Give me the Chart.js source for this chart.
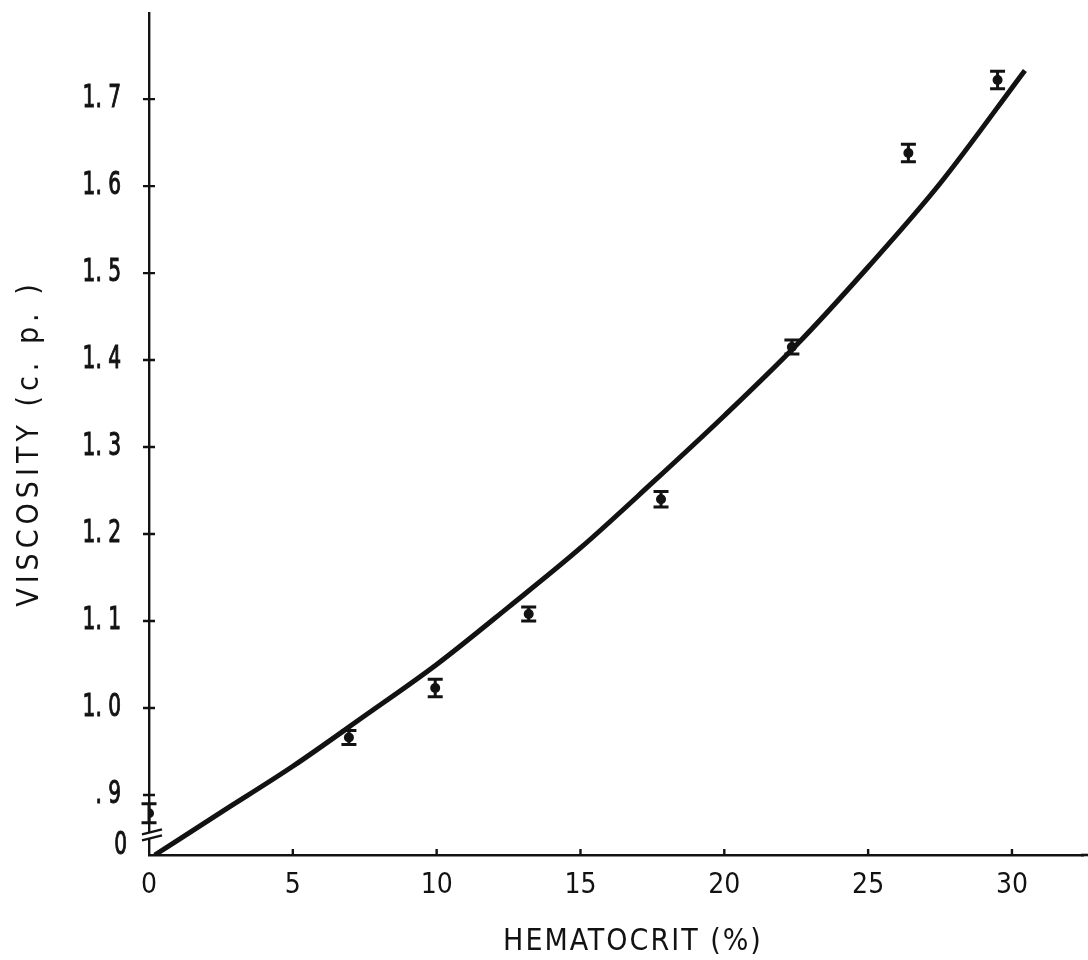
<!DOCTYPE html>
<html>
<head>
<meta charset="utf-8">
<script src="https://cdn.jsdelivr.net/npm/chart.js@4/dist/chart.umd.min.js"></script>
<style>
  html, body { margin: 0; padding: 0; background: #fff; }
  canvas { display: block; }
</style>
</head>
<body>
<canvas id="chart" width="1088" height="960"></canvas>
<script>
// Measured blood viscosity against hematocrit, with error bars
const hematocrit   = [0, 6.95, 9.95, 13.2, 17.8, 22.35, 26.4, 29.5];
const viscosity    = [0.879, 0.966, 1.023, 1.108, 1.240, 1.415, 1.638, 1.722];
const viscosityErr = [0.011, 0.008, 0.010, 0.008, 0.009, 0.008, 0.010, 0.010];

// Fitted curve
const fitHematocrit = [0.2, 2.5, 5, 7.5, 10, 12.5, 15, 17.5, 20, 22.5, 25, 27.5, 30.45];
const fitViscosity  = [0.831, 0.880, 0.933, 0.991, 1.050, 1.116, 1.184, 1.259, 1.336, 1.417, 1.507, 1.603, 1.733];

// Axes (the viscosity axis is broken between 0 and .9)
const xTicks      = [0, 5, 10, 15, 20, 25, 30];
const xTickLabels = ['0', '5', '10', '15', '20', '25', '30'];
const Y_FLOOR = 0.831;   // bottom of the broken axis, labelled "0"
const Y_TOP   = 1.799;
const X_MAX   = 32.47;
const Y_BREAK = 0.857;   // where the break marks cross the axis
const yTicks      = [Y_FLOOR, 0.9, 1.0, 1.1, 1.2, 1.3, 1.4, 1.5, 1.6, 1.7];
const yTickLabels = ['0', '. 9', '1. 0', '1. 1', '1. 2', '1. 3', '1. 4', '1. 5', '1. 6', '1. 7'];

const xTitle = 'HEMATOCRIT (%)';
const yTitle = 'VISCOSITY (c. p. )';

const FONT = '"DejaVu Sans Condensed", "Liberation Sans", sans-serif';
const INK = '#121212';

const decor = {
  id: 'decor',
  beforeDraw(chart) {
    const { ctx, width, height } = chart;
    ctx.save();
    ctx.fillStyle = '#fff';
    ctx.fillRect(0, 0, width, height);
    ctx.restore();
  },
  afterDatasetsDraw(chart) {
    const { ctx, scales: { x, y } } = chart;
    ctx.save();
    ctx.strokeStyle = INK;
    ctx.lineCap = 'butt';
    ctx.lineWidth = 3;
    hematocrit.forEach((h, i) => {
      const px = x.getPixelForValue(h);
      const top = y.getPixelForValue(viscosity[i] + viscosityErr[i]);
      const bot = y.getPixelForValue(viscosity[i] - viscosityErr[i]);
      ctx.beginPath();
      ctx.moveTo(px, top); ctx.lineTo(px, bot);
      ctx.moveTo(px - 7.5, top); ctx.lineTo(px + 7.5, top);
      ctx.moveTo(px - 7.5, bot); ctx.lineTo(px + 7.5, bot);
      ctx.stroke();
    });
    ctx.restore();
  },
  afterDraw(chart) {
    const { ctx, chartArea: area, scales: { x, y } } = chart;
    ctx.save();
    ctx.strokeStyle = INK;
    ctx.lineWidth = 2.4;
    // tick marks: across the viscosity axis, inward on the hematocrit axis
    ctx.beginPath();
    yTicks.forEach(v => {
      if (v === Y_FLOOR) return;
      const py = y.getPixelForValue(v);
      ctx.moveTo(area.left - 6, py); ctx.lineTo(area.left + 6, py);
    });
    xTicks.forEach(v => {
      if (v === 0) return;
      const px = x.getPixelForValue(v);
      ctx.moveTo(px, area.bottom); ctx.lineTo(px, area.bottom - 6);
    });
    ctx.stroke();

    // hematocrit axis runs on to the edge of the figure
    ctx.lineWidth = 2.6;
    ctx.beginPath();
    ctx.moveTo(area.right - 2, area.bottom); ctx.lineTo(chart.width, area.bottom);
    ctx.stroke();

    // axis break
    const yb = y.getPixelForValue(Y_BREAK);
    const L = area.left;
    ctx.fillStyle = '#fff';
    ctx.beginPath();
    ctx.moveTo(L - 3, yb + 1); ctx.lineTo(L + 3, yb - 1);
    ctx.lineTo(L + 3, yb + 5); ctx.lineTo(L - 3, yb + 7);
    ctx.closePath();
    ctx.fill();
    ctx.lineWidth = 2.2;
    ctx.beginPath();
    ctx.moveTo(L - 7, yb + 2); ctx.lineTo(L + 13, yb - 3);
    ctx.moveTo(L - 7, yb + 8); ctx.lineTo(L + 13, yb + 3);
    ctx.stroke();

    // viscosity tick labels, set in a condensed face
    ctx.fillStyle = INK;
    ctx.textBaseline = 'middle';
    ctx.textAlign = 'right';
    ctx.font = '32px ' + FONT;
    ctx.lineWidth = 1;
    yTicks.forEach((v, i) => {
      const isFloor = v === Y_FLOOR;
      ctx.save();
      ctx.translate(isFloor ? area.left - 22 : area.left - 28, y.getPixelForValue(v) - (isFloor ? 9 : 0));
      ctx.scale(0.7, 1);
      ctx.fillText(yTickLabels[i], 0, 0);
      ctx.strokeText(yTickLabels[i], 0, 0);
      ctx.restore();
    });

    // axis titles
    ctx.textAlign = 'center';
    ctx.font = '30px ' + FONT;
    ctx.letterSpacing = '2px';
    ctx.fillText(xTitle, 633, 942);
    ctx.translate(30, 443);
    ctx.rotate(-Math.PI / 2);
    ctx.letterSpacing = '5px';
    ctx.fillText(yTitle, 0, 0);
    ctx.restore();
  }
};

new Chart(document.getElementById('chart'), {
  type: 'scatter',
  data: {
    datasets: [
      {
        label: 'measured',
        data: hematocrit.map((h, i) => ({ x: h, y: viscosity[i] })),
        pointRadius: 5,
        pointStyle: 'circle',
        backgroundColor: INK,
        borderColor: INK,
        borderWidth: 0,
        order: 1
      },
      {
        label: 'fit',
        type: 'line',
        data: fitHematocrit.map((h, i) => ({ x: h, y: fitViscosity[i] })),
        borderColor: INK,
        borderWidth: 5,
        pointRadius: 0,
        fill: false,
        cubicInterpolationMode: 'monotone',
        order: 2
      }
    ]
  },
  options: {
    responsive: false,
    animation: false,
    devicePixelRatio: 1,
    layout: { padding: { top: 13, right: 0, bottom: 0, left: 0 } },
    plugins: { legend: { display: false }, tooltip: { enabled: false } },
    scales: {
      x: {
        type: 'linear',
        min: 0,
        max: X_MAX,
        afterBuildTicks: s => { s.ticks = xTicks.map(v => ({ value: v })); },
        afterFit: s => { s.height = 105; s.paddingLeft = 0; s.paddingRight = 0; },
        grid: { display: false, drawTicks: false },
        border: { display: true, color: INK, width: 2.6 },
        ticks: {
          autoSkip: false,
          maxRotation: 0,
          padding: 14,
          color: INK,
          font: { family: FONT, size: 28 },
          callback: v => xTickLabels[xTicks.indexOf(v)]
        }
      },
      y: {
        type: 'linear',
        min: Y_FLOOR,
        max: Y_TOP,
        afterBuildTicks: s => { s.ticks = yTicks.map(v => ({ value: v })); },
        afterFit: s => { s.width = 149; s.paddingTop = 0; s.paddingBottom = 0; },
        grid: { display: false, drawTicks: false },
        border: { display: true, color: INK, width: 2.4 },
        ticks: { display: false }
      }
    }
  },
  plugins: [decor]
});
</script>
</body>
</html>
